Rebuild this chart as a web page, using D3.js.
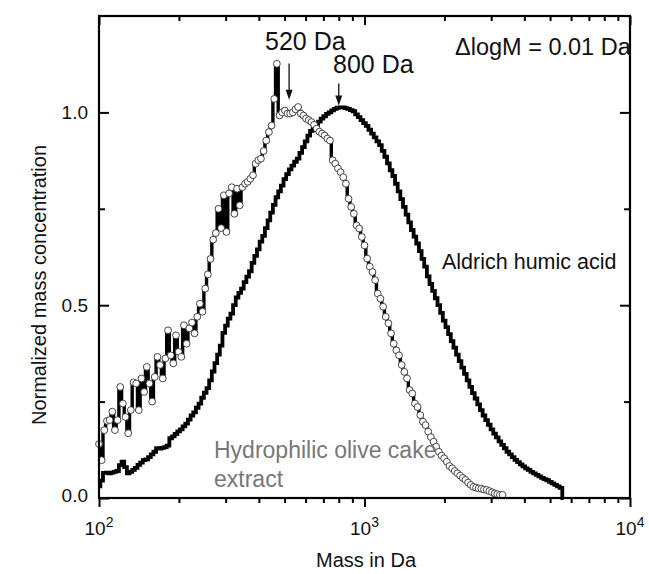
<!DOCTYPE html>
<html>
<head>
<meta charset="utf-8">
<script src="https://cdn.jsdelivr.net/npm/d3@7"></script>
<style>
  body { margin: 0; background: #fff; }
  svg { display: block; }
  text { font-family: "Liberation Sans", Arial, Helvetica, sans-serif; }
</style>
</head>
<body>
<svg id="chart" width="649" height="574"></svg>
<script>
// Molecular mass distributions sampled on a log grid (ΔlogM = 0.01), starting at log10(M) = 2
const logMStart = 2.0;
const logMStep = 0.01;

// Aldrich humic acid, normalized mass concentration
const humicAcid = [
  0.030, 0.045, 0.065, 0.066, 0.064, 0.066, 0.068, 0.070, 0.085, 0.094,
  0.080, 0.064, 0.068, 0.073, 0.078, 0.086, 0.092, 0.098, 0.100, 0.106,
  0.113, 0.120, 0.129, 0.128, 0.130, 0.132, 0.136, 0.155, 0.160, 0.166,
  0.173, 0.178, 0.186, 0.193, 0.203, 0.214, 0.222, 0.234, 0.245, 0.260,
  0.273, 0.285, 0.305, 0.328, 0.350, 0.372, 0.395, 0.428, 0.447, 0.465,
  0.478, 0.500, 0.520, 0.532, 0.543, 0.560, 0.574, 0.588, 0.610, 0.628,
  0.645, 0.665, 0.680, 0.700, 0.720, 0.740, 0.760, 0.780, 0.795, 0.810,
  0.827, 0.840, 0.852, 0.862, 0.872, 0.880, 0.895, 0.910, 0.925, 0.940,
  0.952, 0.960, 0.968, 0.976, 0.984, 0.990, 0.996, 1.000, 1.005, 1.009,
  1.012, 1.013, 1.013, 1.011, 1.009, 1.006, 1.003, 0.995, 0.988, 0.980,
  0.972, 0.965, 0.955, 0.945, 0.935, 0.925, 0.915, 0.900, 0.885, 0.868,
  0.850, 0.835, 0.815, 0.795, 0.775, 0.755, 0.735, 0.715, 0.695, 0.678,
  0.660, 0.640, 0.620, 0.600, 0.575, 0.555, 0.537, 0.518, 0.500, 0.480,
  0.460, 0.443, 0.425, 0.407, 0.390, 0.372, 0.355, 0.338, 0.322, 0.305,
  0.288, 0.272, 0.258, 0.243, 0.228, 0.214, 0.202, 0.190, 0.178, 0.167,
  0.157, 0.147, 0.138, 0.129, 0.120, 0.113, 0.106, 0.099, 0.093, 0.087,
  0.082, 0.077, 0.073, 0.068, 0.064, 0.060, 0.056, 0.052, 0.049, 0.046,
  0.042, 0.038, 0.034, 0.030, 0.026, 0.000
];

// Hydrophilic olive cake extract, normalized mass concentration
const oliveCake = [
  0.140, 0.098, 0.176, 0.200, 0.202, 0.224, 0.176, 0.202, 0.288, 0.245,
  0.210, 0.168, 0.228, 0.300, 0.297, 0.228, 0.310, 0.275, 0.340, 0.297,
  0.250, 0.314, 0.366, 0.345, 0.310, 0.362, 0.435, 0.370, 0.349, 0.422,
  0.379, 0.366, 0.448, 0.400, 0.440, 0.455, 0.427, 0.470, 0.504, 0.483,
  0.543, 0.580, 0.620, 0.670, 0.687, 0.750, 0.700, 0.785, 0.690, 0.790,
  0.806, 0.737, 0.802, 0.759, 0.806, 0.815, 0.820, 0.828, 0.837, 0.867,
  0.876, 0.880, 0.900, 0.927, 0.949, 0.966, 1.035, 1.126, 0.992, 1.000,
  1.005, 0.997, 0.997, 1.000, 1.008, 1.014, 0.997, 0.992, 0.984, 0.980,
  0.975, 0.968, 0.958, 0.950, 0.945, 0.940, 0.932, 0.927, 0.876, 0.867,
  0.855, 0.845, 0.832, 0.815, 0.776, 0.755, 0.737, 0.707, 0.699, 0.677,
  0.655, 0.621, 0.600, 0.586, 0.565, 0.530, 0.517, 0.496, 0.470, 0.453,
  0.427, 0.400, 0.383, 0.370, 0.345, 0.327, 0.310, 0.280, 0.271, 0.245,
  0.236, 0.215, 0.198, 0.189, 0.172, 0.158, 0.146, 0.133, 0.120, 0.110,
  0.103, 0.094, 0.083, 0.077, 0.070, 0.064, 0.058, 0.052, 0.047, 0.040,
  0.034, 0.029, 0.027, 0.025, 0.024, 0.022, 0.021, 0.018, 0.015, 0.012,
  0.010, 0.008, 0.008
];

// Axis ticks
const xMajorExponents = [2, 3, 4];
const xMinorMultipliers = [2, 3, 4, 5, 6, 7, 8, 9];
const yMajorTicks = [0, 0.5, 1.0];
const yMajorLabels = ["0.0", "0.5", "1.0"];
const yMinorTicks = [0.25, 0.75];

// Peak annotations
const peakMasses = [520, 800];
const peakLabels = ["520 Da", "800 Da"];

const svg = d3.select("#chart");
const plotLeft = 99, plotRight = 630, plotTop = 16, plotBottom = 498;

const x = d3.scaleLog().domain([100, 10000]).range([plotLeft, plotRight]);
const y = d3.scaleLinear().domain([0, 1.25]).range([plotBottom, plotTop]);

const toPoints = arr => arr.map((v, i) => ({ m: Math.pow(10, logMStart + i * logMStep), v }));
const humicPts = toPoints(humicAcid);
const olivePts = toPoints(oliveCake);

const stepLine = d3.line()
  .x(d => x(d.m))
  .y(d => y(d.v))
  .curve(d3.curveStep);

// Aldrich humic acid trace
svg.append("path")
  .datum(humicPts)
  .attr("d", stepLine)
  .attr("fill", "none")
  .attr("stroke", "#000")
  .attr("stroke-width", 3.8)
  .attr("stroke-linejoin", "miter");

// Olive cake extract: step trace with open circles on each sample
svg.append("path")
  .datum(olivePts)
  .attr("d", stepLine)
  .attr("fill", "none")
  .attr("stroke", "#000")
  .attr("stroke-width", 3.4);

svg.append("g")
  .selectAll("circle")
  .data(olivePts)
  .join("circle")
  .attr("cx", d => x(d.m))
  .attr("cy", d => y(d.v))
  .attr("r", 3.4)
  .attr("fill", "#fff")
  .attr("stroke", "#333")
  .attr("stroke-width", 0.9);

// Tick positions on the log axis
const xMajor = xMajorExponents.map(e => Math.pow(10, e));
const xMinor = [];
xMajorExponents.slice(0, -1).forEach(e => {
  xMinorMultipliers.forEach(k => xMinor.push(k * Math.pow(10, e)));
});

function styleAxis(g) {
  g.select(".domain").remove();
  g.selectAll(".tick line").attr("stroke", "#000").attr("stroke-width", 2);
  g.selectAll(".tick text").remove();
}

// Bottom axis: ticks point outward
svg.append("g").attr("transform", `translate(0,${plotBottom})`)
  .call(d3.axisBottom(x).tickValues(xMajor).tickSize(9).tickFormat(""))
  .call(styleAxis);
svg.append("g").attr("transform", `translate(0,${plotBottom})`)
  .call(d3.axisBottom(x).tickValues(xMinor).tickSize(5).tickFormat(""))
  .call(styleAxis);

// Top axis: ticks point inward
svg.append("g").attr("transform", `translate(0,${plotTop})`)
  .call(d3.axisTop(x).tickValues(xMajor).tickSize(-9).tickFormat(""))
  .call(styleAxis);
svg.append("g").attr("transform", `translate(0,${plotTop})`)
  .call(d3.axisTop(x).tickValues(xMinor).tickSize(-5).tickFormat(""))
  .call(styleAxis);

// Left and right axes: ticks point inward
svg.append("g").attr("transform", `translate(${plotLeft},0)`)
  .call(d3.axisLeft(y).tickValues(yMajorTicks).tickSize(-10).tickFormat(""))
  .call(styleAxis);
svg.append("g").attr("transform", `translate(${plotLeft},0)`)
  .call(d3.axisLeft(y).tickValues(yMinorTicks).tickSize(-6).tickFormat(""))
  .call(styleAxis);
svg.append("g").attr("transform", `translate(${plotRight},0)`)
  .call(d3.axisRight(y).tickValues(yMajorTicks).tickSize(-10).tickFormat(""))
  .call(styleAxis);
svg.append("g").attr("transform", `translate(${plotRight},0)`)
  .call(d3.axisRight(y).tickValues(yMinorTicks).tickSize(-6).tickFormat(""))
  .call(styleAxis);

// Plot frame
svg.append("rect")
  .attr("x", plotLeft).attr("y", plotTop)
  .attr("width", plotRight - plotLeft).attr("height", plotBottom - plotTop)
  .attr("fill", "none")
  .attr("stroke", "#000")
  .attr("stroke-width", 2.2);

// X tick labels as powers of ten
xMajorExponents.forEach(e => {
  const t = svg.append("text")
    .attr("x", x(Math.pow(10, e)))
    .attr("y", 535)
    .attr("text-anchor", "middle")
    .attr("font-size", 19)
    .attr("fill", "#111");
  t.append("tspan").text("10");
  t.append("tspan").attr("dy", -8).attr("font-size", 14).text(String(e));
});

// Y tick labels
yMajorTicks.forEach((v, i) => {
  svg.append("text")
    .attr("x", 88)
    .attr("y", y(v) + 6.5 - (v === 0 ? 3 : 0))
    .attr("text-anchor", "end")
    .attr("font-size", 19)
    .attr("fill", "#111")
    .text(yMajorLabels[i]);
});

// Axis titles
svg.append("text")
  .attr("x", 366).attr("y", 567)
  .attr("text-anchor", "middle")
  .attr("font-size", 20)
  .attr("fill", "#111")
  .text("Mass in Da");

svg.append("text")
  .attr("transform", "translate(46,285) rotate(-90)")
  .attr("text-anchor", "middle")
  .attr("font-size", 20)
  .attr("fill", "#111")
  .text("Normalized mass concentration");

// Peak arrows and labels
const arrowSpans = [[1.127, 1.033], [1.075, 1.018]];
const labelPos = [[265, 50], [333, 73]];
peakMasses.forEach((m, i) => {
  const px = x(m);
  const y0 = y(arrowSpans[i][0]);
  const y1 = y(arrowSpans[i][1]);
  svg.append("line")
    .attr("x1", px).attr("x2", px)
    .attr("y1", y0).attr("y2", y1 - 8)
    .attr("stroke", "#111").attr("stroke-width", 1.3);
  svg.append("path")
    .attr("d", `M${px - 3.5},${y1 - 10} L${px + 3.5},${y1 - 10} L${px},${y1} Z`)
    .attr("fill", "#111");
  svg.append("text")
    .attr("x", labelPos[i][0]).attr("y", labelPos[i][1])
    .attr("font-size", 25)
    .attr("fill", "#111")
    .text(peakLabels[i]);
});

svg.append("text")
  .attr("x", 455).attr("y", 55)
  .attr("font-size", 23.5)
  .attr("fill", "#111")
  .text("\u0394logM = 0.01 Da");

// Series labels
svg.append("text")
  .attr("x", 442).attr("y", 269)
  .attr("font-size", 21.5)
  .attr("fill", "#111")
  .text("Aldrich humic acid");

const olive = svg.append("text")
  .attr("font-size", 23)
  .attr("fill", "#777");
olive.append("tspan").attr("x", 214).attr("y", 458).text("Hydrophilic olive cake");
olive.append("tspan").attr("x", 214).attr("y", 487).text("extract");
</script>
</body>
</html>
